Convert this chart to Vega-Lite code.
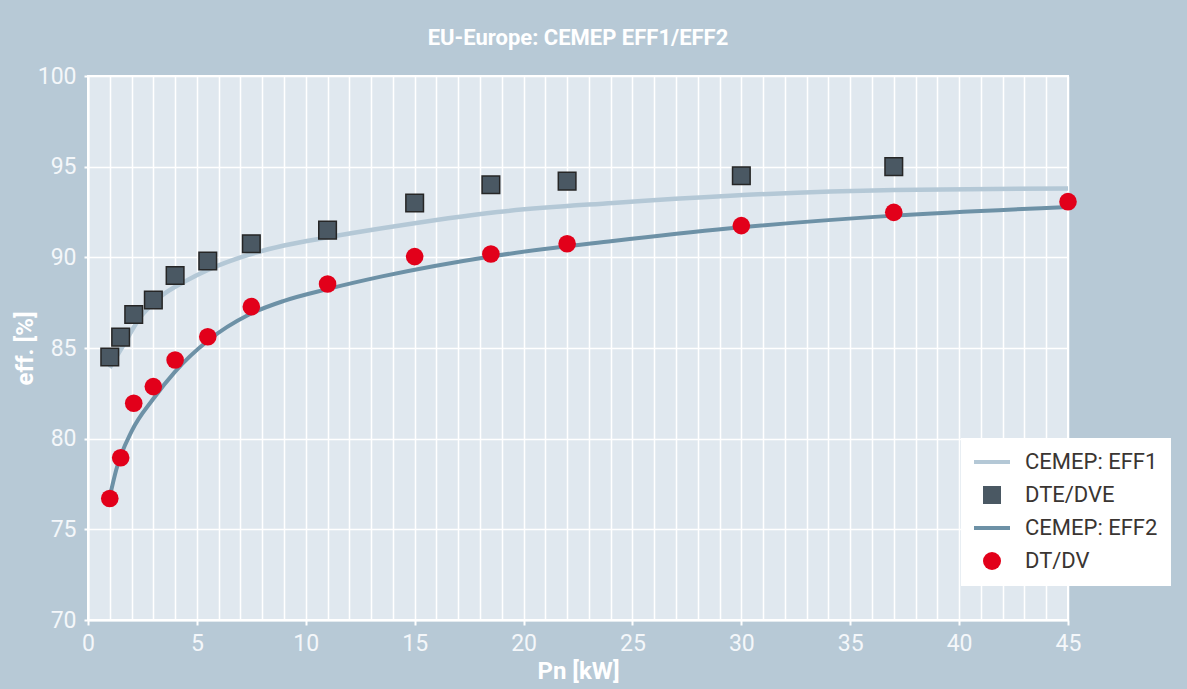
{
  "$schema": "https://vega.github.io/schema/vega-lite/v6.json",
  "autosize": {"type": "none"},
  "padding": {"left": 88, "top": 76, "right": 119, "bottom": 69},
  "width": 980,
  "height": 544,
  "background": "#b7c9d6",
  "title": {
    "text": "EU-Europe: CEMEP EFF1/EFF2",
    "font": "Roboto, sans-serif",
    "fontSize": 22,
    "fontWeight": "bold",
    "color": "white",
    "anchor": "middle",
    "offset": 15
  },
  "config": {
    "view": {"fill": "#e0e8ef", "stroke": "white", "strokeWidth": 2},
    "font": "Roboto, sans-serif"
  },
  "datasets": {
    "curves": [
      {"series": "CEMEP: EFF1", "kw": 1.0, "eff": 83.9},
      {"series": "CEMEP: EFF1", "kw": 1.6, "eff": 85.1},
      {"series": "CEMEP: EFF1", "kw": 2.4, "eff": 86.7},
      {"series": "CEMEP: EFF1", "kw": 3.3, "eff": 87.8},
      {"series": "CEMEP: EFF1", "kw": 4.5, "eff": 88.7},
      {"series": "CEMEP: EFF1", "kw": 5.5, "eff": 89.3},
      {"series": "CEMEP: EFF1", "kw": 7.4, "eff": 90.15},
      {"series": "CEMEP: EFF1", "kw": 9.0, "eff": 90.65},
      {"series": "CEMEP: EFF1", "kw": 11, "eff": 91.1},
      {"series": "CEMEP: EFF1", "kw": 13.5, "eff": 91.6},
      {"series": "CEMEP: EFF1", "kw": 18.8, "eff": 92.5},
      {"series": "CEMEP: EFF1", "kw": 24.1, "eff": 93.0},
      {"series": "CEMEP: EFF1", "kw": 29.5, "eff": 93.4},
      {"series": "CEMEP: EFF1", "kw": 37, "eff": 93.72},
      {"series": "CEMEP: EFF1", "kw": 45, "eff": 93.8},
      {"series": "CEMEP: EFF2", "kw": 1.0, "eff": 76.8},
      {"series": "CEMEP: EFF2", "kw": 1.3, "eff": 78.3},
      {"series": "CEMEP: EFF2", "kw": 2.0, "eff": 80.4},
      {"series": "CEMEP: EFF2", "kw": 3.0, "eff": 82.2},
      {"series": "CEMEP: EFF2", "kw": 4.0, "eff": 83.7},
      {"series": "CEMEP: EFF2", "kw": 5.5, "eff": 85.4},
      {"series": "CEMEP: EFF2", "kw": 7.4, "eff": 86.85},
      {"series": "CEMEP: EFF2", "kw": 9.0, "eff": 87.6},
      {"series": "CEMEP: EFF2", "kw": 11, "eff": 88.25},
      {"series": "CEMEP: EFF2", "kw": 13.5, "eff": 88.95},
      {"series": "CEMEP: EFF2", "kw": 18.5, "eff": 90.05},
      {"series": "CEMEP: EFF2", "kw": 24.1, "eff": 90.9},
      {"series": "CEMEP: EFF2", "kw": 29.5, "eff": 91.6},
      {"series": "CEMEP: EFF2", "kw": 37, "eff": 92.3},
      {"series": "CEMEP: EFF2", "kw": 45, "eff": 92.78}
    ],
    "points": [
      {"series": "DTE/DVE", "kw": 1.0, "eff": 84.5},
      {"series": "DTE/DVE", "kw": 1.5, "eff": 85.6},
      {"series": "DTE/DVE", "kw": 2.1, "eff": 86.85},
      {"series": "DTE/DVE", "kw": 3, "eff": 87.65},
      {"series": "DTE/DVE", "kw": 4, "eff": 89.0},
      {"series": "DTE/DVE", "kw": 5.5, "eff": 89.8},
      {"series": "DTE/DVE", "kw": 7.5, "eff": 90.75},
      {"series": "DTE/DVE", "kw": 11, "eff": 91.5},
      {"series": "DTE/DVE", "kw": 15, "eff": 93.0},
      {"series": "DTE/DVE", "kw": 18.5, "eff": 94.0},
      {"series": "DTE/DVE", "kw": 22, "eff": 94.2},
      {"series": "DTE/DVE", "kw": 30, "eff": 94.5},
      {"series": "DTE/DVE", "kw": 37, "eff": 95.0},
      {"series": "DT/DV", "kw": 1.0, "eff": 76.7},
      {"series": "DT/DV", "kw": 1.5, "eff": 78.95},
      {"series": "DT/DV", "kw": 2.1, "eff": 81.95},
      {"series": "DT/DV", "kw": 3, "eff": 82.87},
      {"series": "DT/DV", "kw": 4, "eff": 84.34},
      {"series": "DT/DV", "kw": 5.5, "eff": 85.62},
      {"series": "DT/DV", "kw": 7.5, "eff": 87.28},
      {"series": "DT/DV", "kw": 11, "eff": 88.53},
      {"series": "DT/DV", "kw": 15, "eff": 90.04},
      {"series": "DT/DV", "kw": 18.5, "eff": 90.18},
      {"series": "DT/DV", "kw": 22, "eff": 90.75},
      {"series": "DT/DV", "kw": 30, "eff": 91.75},
      {"series": "DT/DV", "kw": 37, "eff": 92.48},
      {"series": "DT/DV", "kw": 45, "eff": 93.07}
    ]
  },
  "encoding": {
    "x": {
      "field": "kw",
      "type": "quantitative",
      "scale": {"domain": [0, 45], "nice": false, "zero": false},
      "axis": {
        "values": [0,1,2,3,4,5,6,7,8,9,10,11,12,13,14,15,16,17,18,19,20,21,22,23,24,25,26,27,28,29,30,31,32,33,34,35,36,37,38,39,40,41,42,43,44,45],
        "labelExpr": "datum.value % 5 === 0 ? datum.label : ''",
        "labelOverlap": false,
        "labelFlush": false,
        "tickOpacity": {"condition": {"test": "datum.value % 5 === 0", "value": 1}, "value": 0},
        "grid": true,
        "gridColor": "white",
        "gridWidth": 1.5,
        "gridOpacity": 1,
        "domainColor": "white",
        "domainWidth": 2,
        "tickColor": "white",
        "tickSize": 5,
        "tickWidth": 2,
        "labelFontSize": 23,
        "labelColor": "#f4f7fa",
        "labelPadding": 7,
        "title": "Pn [kW]",
        "titleFontSize": 24,
        "titleFontWeight": "bold",
        "titleColor": "white",
        "titlePadding": 4
      }
    },
    "y": {
      "field": "eff",
      "type": "quantitative",
      "scale": {"domain": [70, 100], "nice": false, "zero": false},
      "axis": {
        "values": [70, 75, 80, 85, 90, 95, 100],
        "grid": true,
        "gridColor": "white",
        "gridWidth": 1.5,
        "gridOpacity": 1,
        "domainColor": "white",
        "domainWidth": 2,
        "tickColor": "white",
        "tickSize": 4,
        "tickWidth": 2,
        "labelFontSize": 23,
        "labelColor": "#f4f7fa",
        "labelPadding": 8,
        "labelFlush": false,
        "labelOverlap": false,
        "title": "eff. [%]",
        "titleFontSize": 24,
        "titleFontWeight": "bold",
        "titleColor": "white",
        "titlePadding": 0
      }
    }
  },
  "layer": [
    {
      "data": {"name": "curves"},
      "transform": [{"filter": "datum.series === 'CEMEP: EFF1'"}],
      "mark": {"type": "line", "interpolate": "monotone", "color": "#b4c8d6", "strokeWidth": 4.5}
    },
    {
      "data": {"name": "curves"},
      "transform": [{"filter": "datum.series === 'CEMEP: EFF2'"}],
      "mark": {"type": "line", "interpolate": "monotone", "color": "#6d91a6", "strokeWidth": 4}
    },
    {
      "data": {"name": "points"},
      "mark": {"type": "point", "filled": true, "opacity": 1, "size": 310, "strokeWidth": 1.5},
      "encoding": {
        "color": {
          "field": "series",
          "type": "nominal",
          "scale": {
            "domain": ["CEMEP: EFF1", "DTE/DVE", "CEMEP: EFF2", "DT/DV"],
            "range": ["#b4c8d6", "#4a5863", "#6d91a6", "#e2001a"]
          },
          "legend": {
            "orient": "none",
            "legendX": 873,
            "legendY": 362,
            "title": null,
            "fillColor": "white",
            "padding": 13,
            "labelFontSize": 22,
            "labelColor": "#3a3532",
            "labelLimit": 400,
            "labelOffset": 22,
            "symbolOffset": 7,
            "rowPadding": 10,
            "symbolSize": 324,
            "symbolStrokeWidth": 1.5,
            "encode": {
              "symbols": {
                "update": {
                  "stroke": [{"test": "datum.value === 'DTE/DVE'", "value": "#262626"}, {"value": "transparent"}],
                  "strokeWidth": {"value": 1.5},
                  "opacity": {"value": 1}
                }
              }
            }
          }
        },
        "shape": {
          "field": "series",
          "type": "nominal",
          "scale": {
            "domain": ["CEMEP: EFF1", "DTE/DVE", "CEMEP: EFF2", "DT/DV"],
            "range": ["M-2,-0.22H2V0.22H-2Z", "square", "M-2,-0.22H2V0.22H-2Z", "circle"]
          }
        },
        "stroke": {
          "condition": {"test": "datum.series === 'DTE/DVE'", "value": "#262626"},
          "value": "transparent"
        }
      }
    }
  ]
}
